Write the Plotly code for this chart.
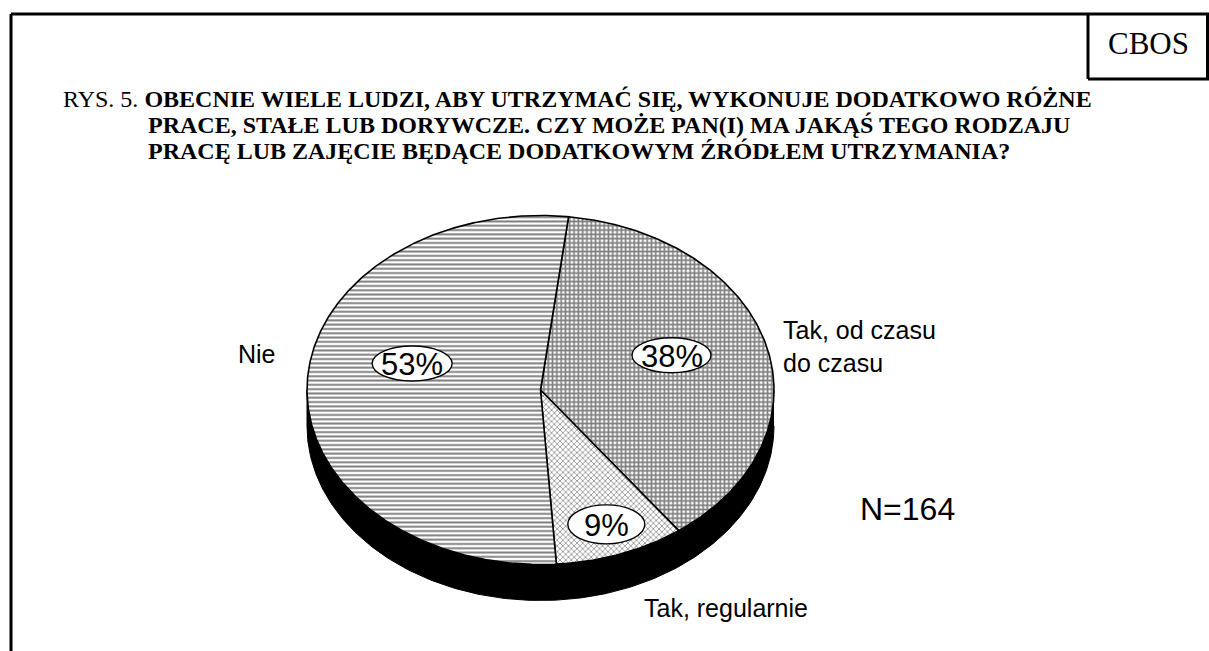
import numpy as np
import plotly.graph_objects as go

# ---------------- data ----------------
categories = ["Tak, od czasu<br>do czasu", "Tak, regularnie", "Nie"]
values = [38, 9, 53]
pct_labels = ["38%", "9%", "53%"]
n_label = "N=164"
source_label = "CBOS"
title_prefix = "RYS. 5. "
title_lines = [
    "OBECNIE WIELE LUDZI, ABY UTRZYMAĆ SIĘ, WYKONUJE DODATKOWO RÓŻNE",
    "PRACE, STAŁE LUB DORYWCZE. CZY MOŻE PAN(I) MA JAKĄŚ TEGO RODZAJU",
    "PRACĘ LUB ZAJĘCIE BĘDĄCE DODATKOWYM ŹRÓDŁEM UTRZYMANIA?",
]

# ---------------- geometry / style ----------------
W, H = 1209, 651
CX, CY = 540.5, 390.0      # pie centre (px)
RX, RY = 233.5, 174.5      # radii of tilted top face
DEPTH = 36                 # thickness of 3-D side
START = 6.9                # degrees clockwise from 12 o'clock
patterns = [
    dict(shape="+", size=4.3, solidity=0.62, fgcolor="black", bgcolor="white"),
    dict(shape="x", size=4.0, solidity=0.33, fgcolor="black", bgcolor="white"),
    dict(shape="-", size=4.3, solidity=0.45, fgcolor="black", bgcolor="white"),
]
label_frac = [0.58, 0.82, 0.55]
label_dy = [-9, 0, -24]
label_box = [(79, 35), (77, 39), (80, 35)]
SANS = "Liberation Sans, Arial, sans-serif"
SERIF = "Liberation Serif, Times New Roman, serif"

fig = go.Figure()

# 3-D side band (lower half of the ellipse, extruded)
t = np.linspace(0, np.pi, 200)
top_x = CX + RX * np.cos(t)
top_y = CY + RY * np.sin(t)
band_x = np.concatenate([top_x, top_x[::-1]])
band_y = np.concatenate([top_y, (top_y + DEPTH)[::-1]])
fig.add_trace(go.Scatter(x=band_x, y=band_y, mode="lines", fill="toself",
                         fillcolor="black", line=dict(color="black", width=1),
                         hoverinfo="skip"))

# wedges of the top face, computed from the values
total = float(sum(values))
angle = START
mids = []
for v, pat in zip(values, patterns):
    span = 360.0 * v / total
    th = np.radians(np.linspace(angle, angle + span, max(int(span * 2), 4)))
    xs = np.concatenate([[CX], CX + RX * np.sin(th), [CX]])
    ys = np.concatenate([[CY], CY - RY * np.cos(th), [CY]])
    fig.add_trace(go.Scatter(x=xs, y=ys, mode="lines", fill="toself",
                             fillcolor="white", fillpattern=pat,
                             line=dict(color="black", width=1.6),
                             hoverinfo="skip"))
    mids.append(np.radians(angle + span / 2))
    angle += span

shapes = []
annotations = []

# percentage labels in white ellipses
for txt, m, f, dy, (bw, bh) in zip(pct_labels, mids, label_frac, label_dy, label_box):
    lx = CX + f * RX * np.sin(m)
    ly = CY - f * RY * np.cos(m) + dy
    shapes.append(dict(type="circle", xref="x", yref="y",
                       x0=lx - bw / 2, x1=lx + bw / 2, y0=ly - bh / 2, y1=ly + bh / 2,
                       fillcolor="white", line=dict(color="black", width=1.4),
                       layer="above"))
    annotations.append(dict(x=lx, y=ly + 1, xref="x", yref="y", text=txt,
                            showarrow=False, xanchor="center", yanchor="middle",
                            font=dict(family=SANS, size=31, color="black")))

# category labels outside the pie
cat_pos = [(781, 346, "left"), (642, 608, "left"), (257, 354, "center")]
for txt, (x, y, anc) in zip(categories, cat_pos):
    annotations.append(dict(x=x, y=y, xref="x", yref="y", text=txt, showarrow=False,
                            xanchor=anc, yanchor="middle", align="left",
                            font=dict(family=SANS, size=25, color="black")))

annotations.append(dict(x=858, y=509, xref="x", yref="y", text=n_label, showarrow=False,
                        xanchor="left", yanchor="middle",
                        font=dict(family=SANS, size=32, color="black")))

# title
title_y = [99, 125, 151]
annotations.append(dict(x=61, y=title_y[0], xref="x", yref="y",
                        text=title_prefix + "<b>" + title_lines[0] + "</b>",
                        showarrow=False, xanchor="left", yanchor="middle",
                        font=dict(family=SERIF, size=24, color="black")))
for ln, yy in zip(title_lines[1:], title_y[1:]):
    annotations.append(dict(x=146, y=yy, xref="x", yref="y", text="<b>" + ln + "</b>",
                            showarrow=False, xanchor="left", yanchor="middle",
                            font=dict(family=SERIF, size=24, color="black")))

# CBOS box
annotations.append(dict(x=1148, y=43, xref="x", yref="y", text=source_label,
                        showarrow=False, xanchor="center", yanchor="middle",
                        font=dict(family=SERIF, size=31, color="black")))

frame = dict(color="black", width=3)
shapes += [
    dict(type="line", xref="x", yref="y", x0=11, x1=11, y0=14, y1=H, line=frame),
    dict(type="line", xref="x", yref="y", x0=11, x1=W, y0=14, y1=14, line=frame),
    dict(type="line", xref="x", yref="y", x0=1088, x1=1088, y0=14, y1=79, line=frame),
    dict(type="line", xref="x", yref="y", x0=1088, x1=W, y0=79, y1=79, line=frame),
    dict(type="line", xref="x", yref="y", x0=1207.5, x1=1207.5, y0=14, y1=79, line=frame),
]

fig.update_layout(
    width=W, height=H,
    margin=dict(l=0, r=0, t=0, b=0),
    paper_bgcolor="white", plot_bgcolor="white",
    showlegend=False,
    xaxis=dict(range=[0, W], visible=False, fixedrange=True),
    yaxis=dict(range=[H, 0], visible=False, fixedrange=True),
    shapes=shapes,
    annotations=annotations,
)

fig.write_html("out.html", config={"displayModeBar": False},
               post_script="document.body.style.margin='0';document.body.style.overflow='hidden';")
